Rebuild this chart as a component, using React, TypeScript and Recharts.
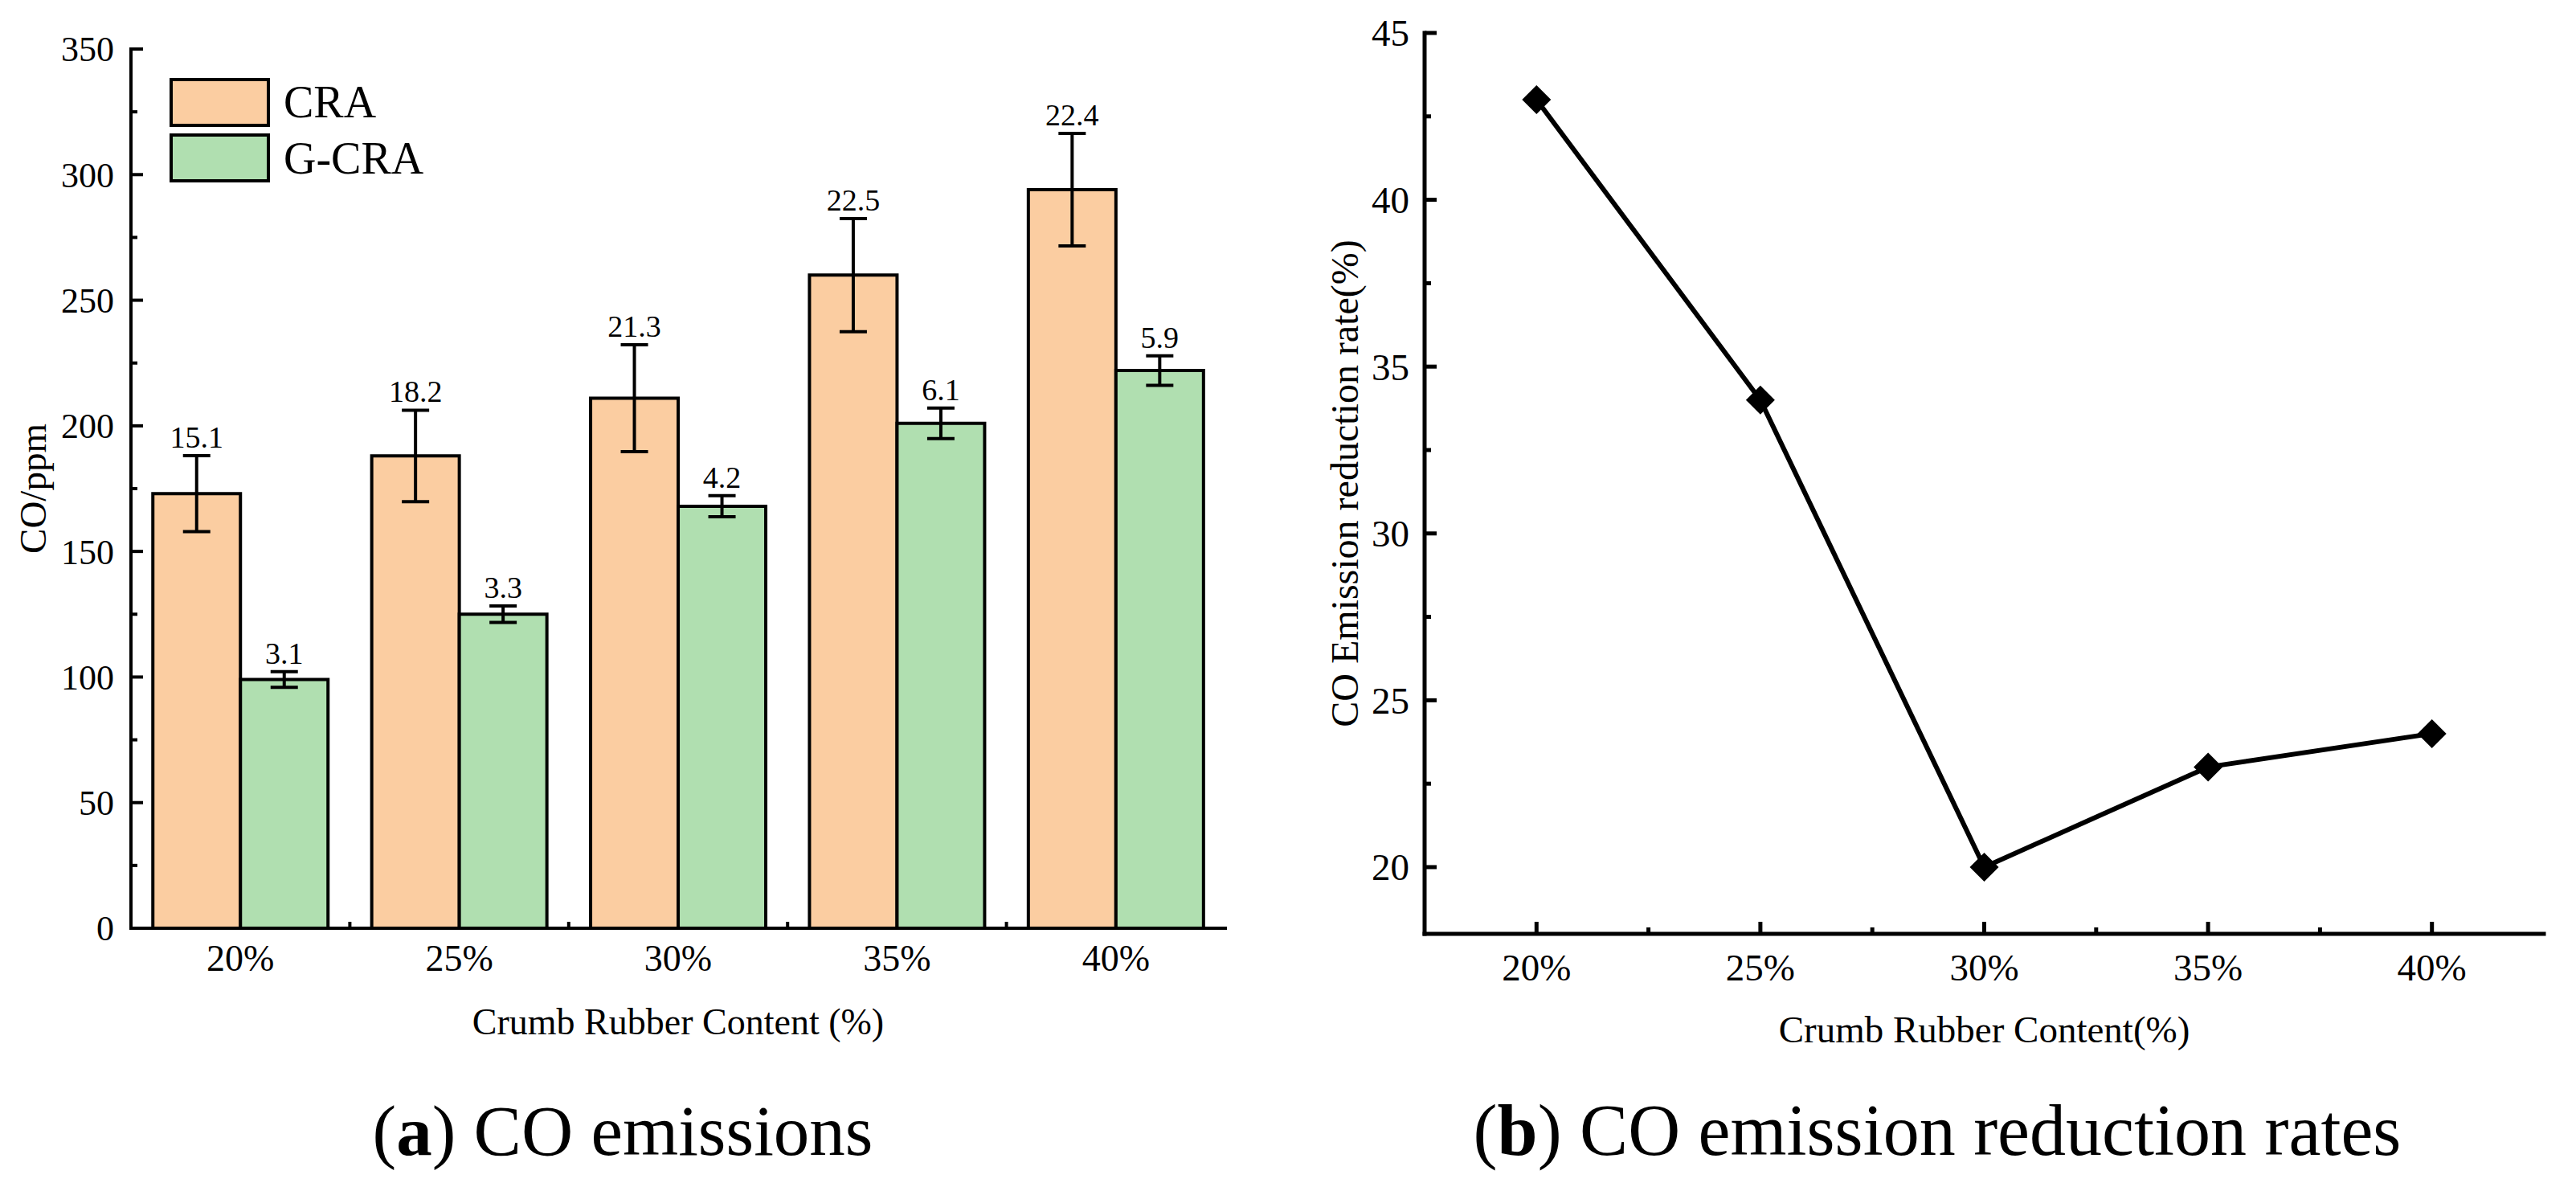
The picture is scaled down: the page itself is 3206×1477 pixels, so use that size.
import React from "react";
import {
  BarChart,
  Bar,
  ErrorBar,
  LabelList,
  LineChart,
  Line,
  XAxis,
  YAxis,
  Legend,
} from "recharts";

// left panel: CO emissions
const contents = ["20%", "25%", "30%", "35%", "40%"];
const craValues = [173, 188, 211, 260, 294];
const craErrors = [15.1, 18.2, 21.3, 22.5, 22.4];
const gcraValues = [99, 125, 168, 201, 222];
const gcraErrors = [3.1, 3.3, 4.2, 6.1, 5.9];
const coTicks = [0, 25, 50, 75, 100, 125, 150, 175, 200, 225, 250, 275, 300, 325, 350];

// right panel: reduction rate
const rubberContent = [20, 25, 30, 35, 40];
const reductionRates = [43, 34, 20, 23, 24];
const rateXTicks = [20, 22.5, 25, 27.5, 30, 32.5, 35, 37.5, 40];
const rateYTicks = [20, 22.5, 25, 27.5, 30, 32.5, 35, 37.5, 40, 42.5, 45];

const FONT = '"Liberation Serif", "Times New Roman", serif';
const CRA_COLOR = "#FBCDA1";
const GCRA_COLOR = "#B0DFB0";

const barData = contents.map((c, i) => ({
  cat: c,
  cra: craValues[i],
  craErr: craErrors[i],
  gcra: gcraValues[i],
  gcraErr: gcraErrors[i],
}));

const lineData = rubberContent.map((x, i) => ({ x, rate: reductionRates[i] }));

const LEFT_W = 1560;
const LEFT_H = 1340;
const LEFT_MARGIN = { top: 61, right: 35, bottom: 0, left: 0 };
const LEFT_YAXIS_W = 163;
const BAND = (LEFT_W - LEFT_MARGIN.right - LEFT_YAXIS_W) / contents.length;

const RIGHT_W = 1606;
const RIGHT_H = 1340;

const leftYTick = (props: any) => {
  const { x, y, payload } = props;
  const major = payload.value % 50 === 0;
  return (
    <g>
      <line x1={x} x2={x + (major ? 15 : 8)} y1={y} y2={y} stroke="#000" strokeWidth={4} />
      {major && (
        <text x={x - 21} y={y} dy="0.35em" textAnchor="end" fontFamily={FONT} fontSize={44} fill="#000">
          {payload.value}
        </text>
      )}
    </g>
  );
};

const leftXTick = (props: any) => {
  const { x, y, payload, index } = props;
  return (
    <g>
      {index > 0 && (
        <line x1={x - BAND / 2} x2={x - BAND / 2} y1={y} y2={y - 8} stroke="#000" strokeWidth={4} />
      )}
      <text x={x} y={y + 53} textAnchor="middle" fontFamily={FONT} fontSize={46} fill="#000">
        {payload.value}
      </text>
    </g>
  );
};

const rightYTick = (props: any) => {
  const { x, y, payload } = props;
  const major = payload.value % 5 === 0;
  return (
    <g>
      <line x1={x} x2={x + (major ? 15 : 8)} y1={y} y2={y} stroke="#000" strokeWidth={5} />
      {major && (
        <text x={x - 19} y={y} dy="0.35em" textAnchor="end" fontFamily={FONT} fontSize={47} fill="#000">
          {payload.value}
        </text>
      )}
    </g>
  );
};

const rightXTick = (props: any) => {
  const { x, y, payload } = props;
  const major = payload.value % 5 === 0;
  return (
    <g>
      <line x1={x} x2={x} y1={y} y2={y - (major ? 15 : 8)} stroke="#000" strokeWidth={5} />
      {major && (
        <text x={x} y={y + 58} textAnchor="middle" fontFamily={FONT} fontSize={47} fill="#000">
          {payload.value + "%"}
        </text>
      )}
    </g>
  );
};

const errLabel = (values: number[], errors: number[]) => (props: any) => {
  const vb = props.viewBox || props;
  const i = props.index;
  if (vb == null || i == null) return null;
  const pxPerUnit = vb.height / values[i];
  const top = vb.y - errors[i] * pxPerUnit;
  return (
    <text x={vb.x + vb.width / 2} y={top - 10} textAnchor="middle" fontFamily={FONT} fontSize={38} fill="#000">
      {errors[i]}
    </text>
  );
};

const renderLegend = (props: any) => {
  const { payload } = props;
  return (
    <svg width={420} height={140}>
      {payload.map((item: any, i: number) => (
        <g key={item.value}>
          <rect x={4} y={4 + i * 69} width={121} height={57} fill={item.color} stroke="#000" strokeWidth={4} />
          <text x={144} y={51 + i * 70} fontFamily={FONT} fontSize={56} fill="#000">
            {item.value}
          </text>
        </g>
      ))}
    </svg>
  );
};

const diamond = (props: any) => {
  const { cx, cy, index } = props;
  const r = 18;
  return (
    <polygon
      key={`d-${index}`}
      points={`${cx},${cy - r} ${cx + r},${cy} ${cx},${cy + r} ${cx - r},${cy}`}
      fill="#000"
    />
  );
};

const yTitle = (text: string, baselineX: number, size: number) => (props: any) => {
  const vb = props.viewBox;
  const cx = vb.x + baselineX;
  const cy = vb.y + vb.height / 2;
  return (
    <text
      transform={`translate(${cx}, ${cy}) rotate(-90)`}
      textAnchor="middle"
      fontFamily={FONT}
      fontSize={size}
      fill="#000"
    >
      {text}
    </text>
  );
};

const xTitle = (text: string, baselineDy: number, size: number) => (props: any) => {
  const vb = props.viewBox;
  return (
    <text x={vb.x + vb.width / 2} y={vb.y + baselineDy} textAnchor="middle" fontFamily={FONT} fontSize={size} fill="#000">
      {text}
    </text>
  );
};

function EmissionChart() {
  const frame = { stroke: "#000", strokeWidth: 4, strokeLinecap: "square" as const };
  return (
    <BarChart width={LEFT_W} height={LEFT_H} data={barData} margin={LEFT_MARGIN} barCategoryGap="10%" barGap={0}>
      <XAxis
        dataKey="cat"
        height={185}
        axisLine={frame}
        tickLine={false}
        tickSize={0}
        tickMargin={0}
        interval={0}
        tick={leftXTick}
        label={{ content: xTitle("Crumb Rubber Content (%)", 132, 46) }}
      />
      <XAxis xAxisId="top" dataKey="cat" orientation="top" height={0} axisLine={frame} tick={false} tickLine={false} />
      <YAxis
        domain={[0, 350]}
        ticks={coTicks}
        width={LEFT_YAXIS_W}
        axisLine={frame}
        tickLine={false}
        tickSize={0}
        tickMargin={0}
        interval={0}
        tick={leftYTick}
        label={{ content: yTitle("CO/ppm", 57, 47) }}
      />
      <YAxis yAxisId="right" orientation="right" domain={[0, 350]} width={0} axisLine={frame} tick={false} tickLine={false} />
      <Legend
        layout="vertical"
        align="center"
        verticalAlign="middle"
        content={renderLegend}
        wrapperStyle={{ left: 209, top: 95, width: 420, height: 140 }}
      />
      <Bar dataKey="cra" name="CRA" fill={CRA_COLOR} stroke="#000" strokeWidth={4} isAnimationActive={false}>
        <ErrorBar dataKey="craErr" width={17} stroke="#000" strokeWidth={4} isAnimationActive={false} />
        <LabelList dataKey="craErr" content={errLabel(craValues, craErrors)} />
      </Bar>
      <Bar dataKey="gcra" name="G-CRA" fill={GCRA_COLOR} stroke="#000" strokeWidth={4} isAnimationActive={false}>
        <ErrorBar dataKey="gcraErr" width={17} stroke="#000" strokeWidth={4} isAnimationActive={false} />
        <LabelList dataKey="gcraErr" content={errLabel(gcraValues, gcraErrors)} />
      </Bar>
    </BarChart>
  );
}

function ReductionChart() {
  const frame = { stroke: "#000", strokeWidth: 5, strokeLinecap: "square" as const };
  return (
    <LineChart width={RIGHT_W} height={RIGHT_H} data={lineData} margin={{ top: 41, right: 40, bottom: 0, left: 0 }}>
      <XAxis
        dataKey="x"
        type="number"
        domain={[17.5, 42.5]}
        ticks={rateXTicks}
        height={178}
        axisLine={frame}
        tickLine={false}
        tickSize={0}
        tickMargin={0}
        interval={0}
        tick={rightXTick}
        label={{ content: xTitle("Crumb Rubber Content(%)", 135, 47) }}
      />
      <XAxis xAxisId="top" type="number" domain={[17.5, 42.5]} orientation="top" height={0} axisLine={frame} tick={false} tickLine={false} />
      <YAxis
        domain={[18, 45]}
        ticks={rateYTicks}
        width={173}
        axisLine={frame}
        tickLine={false}
        tickSize={0}
        tickMargin={0}
        interval={0}
        tick={rightYTick}
        label={{ content: yTitle("CO Emission reduction rate(%)", 90, 48) }}
      />
      <YAxis yAxisId="right" orientation="right" domain={[18, 45]} width={0} axisLine={frame} tick={false} tickLine={false} />
      <Line
        dataKey="rate"
        stroke="#000"
        strokeWidth={6}
        strokeLinejoin="round"
        dot={diamond}
        activeDot={false}
        isAnimationActive={false}
      />
    </LineChart>
  );
}

export default function App() {
  return (
    <div style={{ position: "absolute", left: 0, top: 0, width: 3206, height: 1477, background: "#fff" }}>
      <div style={{ position: "absolute", left: 0, top: 0 }}>
        <EmissionChart />
      </div>
      <div style={{ position: "absolute", left: 1600, top: 0 }}>
        <ReductionChart />
      </div>
      <svg width={3206} height={1477} style={{ position: "absolute", left: 0, top: 0, pointerEvents: "none" }}>
        <text x={775} y={1437} textAnchor="middle" fontFamily={FONT} fontSize={89} fill="#000">
          (<tspan fontWeight="bold">a</tspan>) CO emissions
        </text>
        <text x={2411} y={1437} textAnchor="middle" fontFamily={FONT} fontSize={90} fill="#000">
          (<tspan fontWeight="bold">b</tspan>) CO emission reduction rates
        </text>
      </svg>
    </div>
  );
}
